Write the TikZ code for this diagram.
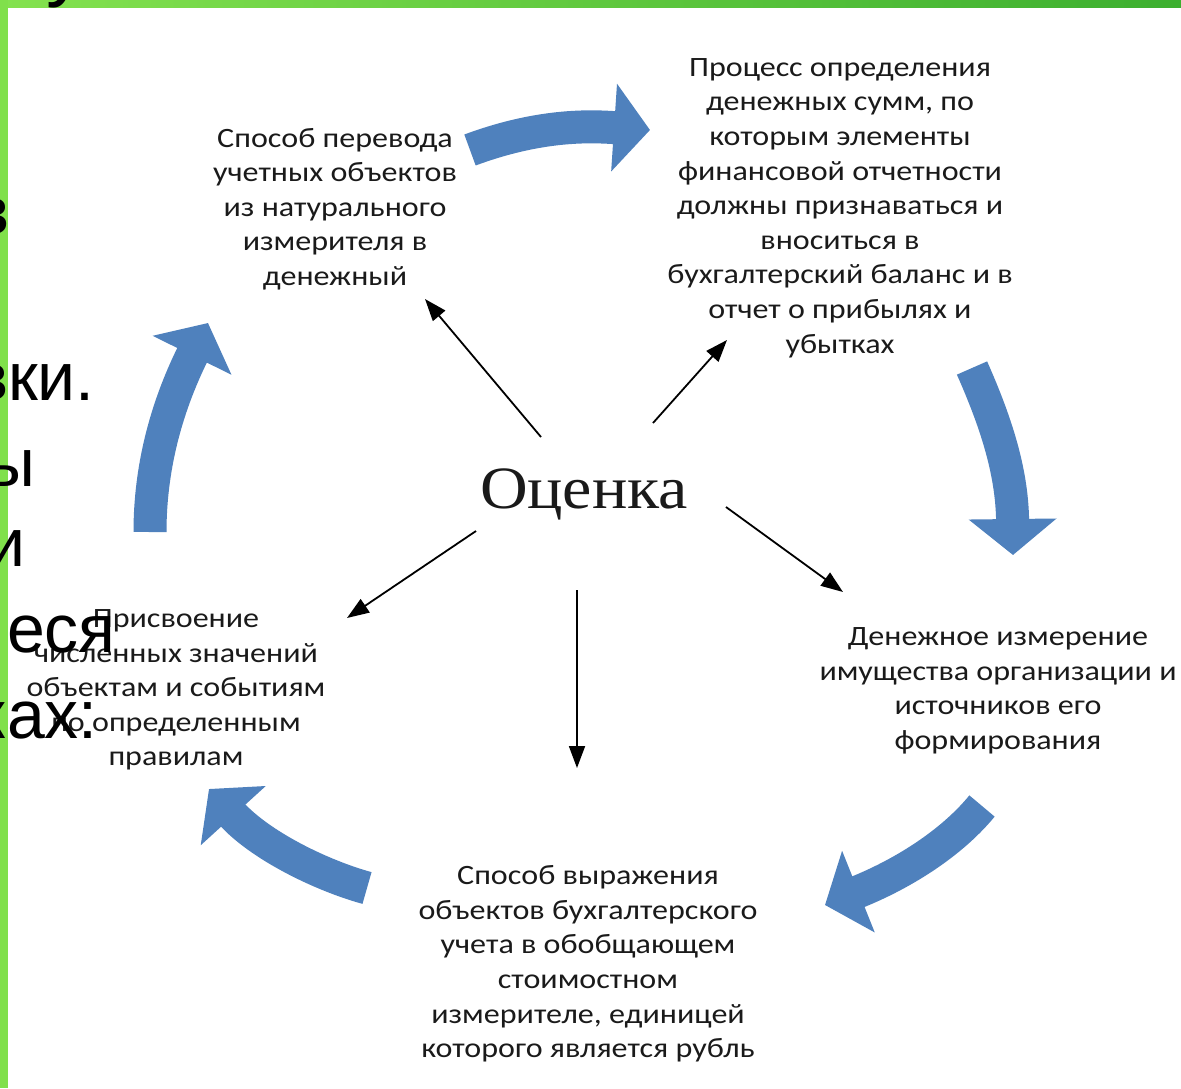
\documentclass[tikz,border=0pt]{standalone}
\usepackage{fontspec}
\setmainfont{Liberation Serif}
\newfontfamily\boxfont[FakeStretch=1.145]{Carlito}
\newfontfamily\centerfont[FakeStretch=1.1]{Liberation Serif}
\newfontfamily\slidefont{Liberation Sans}
\usetikzlibrary{arrows.meta}
\definecolor{blk}{HTML}{1A1A1A}
\definecolor{cycblue}{HTML}{4F81BD}
\definecolor{gL}{HTML}{84E24F}
\definecolor{gR}{HTML}{3CAF2F}
\definecolor{gBar}{HTML}{80E04B}
\begin{document}
\begin{tikzpicture}[x=1pt,y=-1pt,
  boxtext/.style={align=center, inner sep=0pt, text=blk, font=\boxfont\fontsize{28}{34.6}\selectfont},
  ray/.style={line width=1.8pt, black, -{Triangle[length=22pt,width=16pt]}},
  cyc/.style={line width=33pt, cycblue, -{Triangle[length=36pt,width=86pt]}},
  frag/.style={anchor=base east, inner sep=0pt, text=black, font=\slidefont\fontsize{68}{70}\selectfont}]
\fill[white] (0,0) rectangle (1181,1088);
\useasboundingbox (0,0) rectangle (1181,1088);
% slide frame
\shade[left color=gL, right color=gR] (0,0) rectangle (1181,7);
\fill[gBar] (0,0) rectangle (8,1088);

% text blocks
\node[boxtext] (A) at (335,209) {Способ перевода\\учетных объектов\\из натурального\\измерителя в\\денежный};
\node[boxtext] (B) at (840,208) {Процесс определения\\денежных сумм, по\\которым элементы\\финансовой отчетности\\должны признаваться и\\вноситься в\\бухгалтерский баланс и в\\отчет о прибылях и\\убытках};
\node[boxtext] (C) at (998,691) {Денежное измерение\\имущества организации и\\источников его\\формирования};
\node[boxtext] (D) at (588,964) {Способ выражения\\объектов бухгалтерского\\учета в обобщающем\\стоимостном\\измерителе, единицей\\которого является рубль};
\node[boxtext] (E) at (176,690) {Присвоение\\численных значений\\объектам и событиям\\по определенным\\правилам};

% centre
\node[anchor=base, inner sep=0pt, text=blk, font=\centerfont\fontsize{60}{60}\selectfont] (O) at (584,508) {Оценка};

% rays from the centre
\coordinate (oA) at (541,437); \coordinate (tA) at (425,299);
\coordinate (oB) at (653,423); \coordinate (tB) at (727,340);
\coordinate (oC) at (726,507); \coordinate (tC) at (843,592);
\coordinate (oD) at (577,590); \coordinate (tD) at (577,768);
\coordinate (oE) at (476,531); \coordinate (tE) at (347,618);
\draw[ray] (oA) -- (tA);
\draw[ray] (oB) -- (tB);
\draw[ray] (oC) -- (tC);
\draw[ray] (oD) -- (tD);
\draw[ray] (oE) -- (tE);

% cycle arrows
\coordinate (s1) at (470,150); \coordinate (e1) at (650,130);
\coordinate (s2) at (972,368); \coordinate (e2) at (1013,555);
\coordinate (s3) at (982,806); \coordinate (e3) at (825,905);
\coordinate (s4) at (367,888); \coordinate (e4) at (209,789);
\coordinate (s5) at (150,532); \coordinate (e5) at (208,323);
\draw[cyc] (s1) .. controls (540,124) and (590,126) .. (e1);
\draw[cyc] (s2) .. controls (995,420) and (1012,470) .. (e2);
\draw[cyc] (s3) .. controls (950,845) and (900,875) .. (e3);
\draw[cyc] (s4) .. controls (320,875) and (260,845) .. (e4);
\draw[cyc] (s5) .. controls (150,470) and (165,410) .. (e5);

% cut-off slide text
\begin{scope}
\clip (0,0) rectangle (1181,1088);
\node[anchor=base, inner sep=0pt, text=black, font=\slidefont\fontsize{80}{80}\selectfont] (t0) at (66,-9) {у};
\node[frag] (f1) at (10,234) {в};
\node[frag] (f2) at (95,400) {вки.};
\node[frag] (f3) at (36,486) {ы};
\node[frag] (f4) at (26,566) {и};
\node[frag] (f5) at (116,652) {еся};
\node[frag] (f6) at (98,738) {ках:};
\end{scope}
\end{tikzpicture}
\end{document}
